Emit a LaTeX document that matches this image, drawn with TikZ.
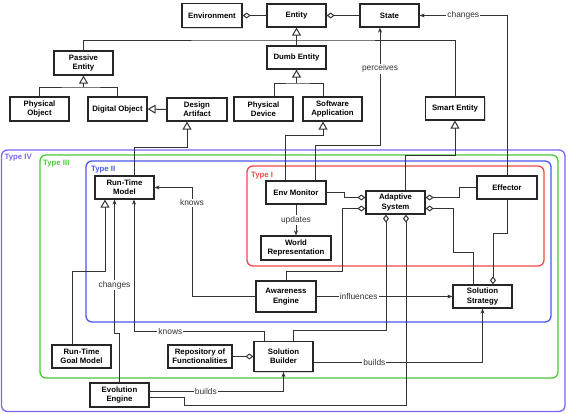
\documentclass[tikz,border=0pt]{standalone}
\usepackage{fontspec}
\setmainfont{Liberation Sans}
\usetikzlibrary{arrows.meta,shadows}
\definecolor{typeone}{HTML}{F04848}
\definecolor{typetwo}{HTML}{4A58EE}
\definecolor{typethree}{HTML}{4CC83A}
\definecolor{typefour}{HTML}{7C64F4}
\definecolor{wire}{HTML}{333333}

\begin{document}
\begin{tikzpicture}[x=1pt, y=-1pt,
  box/.style={draw=black!85, line width=1.2pt, fill=white, align=center, inner sep=1pt,
    minimum width=59pt, minimum height=23pt, font=\fontsize{7.8}{9.3}\selectfont\bfseries,
    drop shadow={shadow xshift=1pt, shadow yshift=-1pt, opacity=0.3}},
  lbl/.style={fill=white, inner sep=1pt, text=wire, font=\fontsize{8.4}{10}\selectfont},
  link/.style={draw=wire, line width=1pt},
  agg/.style={link, {Diamond[open,length=8pt,width=6pt]}-},
  inh/.style={link, -{Triangle[open,length=8pt,width=9pt]}},
  uses/.style={link, -{Stealth[length=5pt,width=4pt,inset=1.5pt]}},
  zone/.style={line width=1.3pt, rounded corners=6pt},
  zonelbl/.style={anchor=north west, inner sep=0pt, font=\fontsize{7.8}{9}\selectfont\bfseries}]
\useasboundingbox (0,0) rectangle (568,413);

% system types
\draw[zone, typefour] (1.5,150) rectangle (565,411.5);
\node[zonelbl, text=typefour] (t4) at (4.5,154) {Type IV};
\draw[zone, typethree] (40,155) rectangle (558,378);
\node[zonelbl, text=typethree] (t3) at (43,160) {Type III};
\draw[zone, typetwo] (86,161) rectangle (551,322);
\node[zonelbl, text=typetwo] (t2) at (91,166) {Type II};
\draw[zone, typeone] (247,166) rectangle (544,266);
\node[zonelbl, text=typeone] (t1) at (251,172) {Type I};

\node[box, minimum width=60pt, minimum height=24pt] (env) at (212,15.5) {Environment};
\node[box] (entity) at (296.5,15.5) {Entity};
\node[box] (state) at (389.5,15.5) {State};
\node[box, minimum height=24pt] (passive) at (83.5,63) {Passive\\Entity};
\node[box] (dumb) at (296.5,57.5) {Dumb Entity};
\node[box, minimum height=24pt] (physobj) at (39.5,109) {Physical\\Object};
\node[box, minimum height=24pt] (digobj) at (117.5,109) {Digital Object};
\node[box, minimum width=60pt] (design) at (197,109.5) {Design\\Artifact};
\node[box, minimum height=24pt] (physdev) at (263.5,109) {Physical\\Device};
\node[box, minimum height=24pt] (softapp) at (332.5,109) {Software\\Application};
\node[box] (smart) at (455,108.5) {Smart Entity};

\node[box] (rtm) at (124.5,187.5) {Run-Time\\Model};
\node[box, minimum width=60pt] (envmon) at (296,192.5) {Env Monitor};
\node[box, minimum width=70pt, minimum height=24pt] (world) at (296,248) {World\\Representation};
\node[box] (adaptive) at (395.5,202.5) {Adaptive\\System};
\node[box, minimum width=60pt] (effector) at (507,187.5) {Effector};
\node[box, minimum width=60pt, minimum height=31pt] (awareness) at (286,296.5) {Awareness\\Engine};
\node[box] (strategy) at (482.5,296.5) {Solution\\Strategy};
\node[box] (goal) at (81.5,356.5) {Run-Time\\Goal Model};
\node[box, minimum width=64pt] (repo) at (200,356.5) {Repository of\\Functionalities};
\node[box, minimum height=30pt] (builder) at (283.5,356.5) {Solution\\Builder};
\node[box, minimum height=24pt] (evolution) at (119.5,395) {Evolution\\Engine};

% generalisation
\coordinate (g1) at (296.5,40);
\draw[inh] (dumb.north) -- (entity.south);
\draw[link] (passive.north) |- (g1) -| (smart.north);
\coordinate (g2) at (296.5,83);
\draw[inh] (g2) -- (dumb.south);
\draw[link] ([xshift=10.5pt]physdev.north) |- (g2) -| ([xshift=-9.5pt]softapp.north);
\coordinate (g3) at (83.5,87);
\draw[inh] (g3) -- (passive.south);
\draw[link] (physobj.north) |- (g3) -| (digobj.north);
\draw[inh] (design.west) -- (digobj.east);
\coordinate (g4) at (187,147);
\draw[inh] ([xshift=9.5pt]rtm.north) |- (g4) -- (g4 |- design.south);
\coordinate (g5) at (323,135);
\draw[inh] ([xshift=-11pt]envmon.north) |- (g5) -- (g5 |- softapp.south);
\coordinate (g6) at (455,155);
\draw[inh] ([xshift=9.5pt]adaptive.north) |- (g6) -- (smart.south);
\coordinate (g7) at (105,271);
\draw[inh] ([xshift=-9.5pt]goal.north) |- (g7) -- (g7 |- rtm.south);

% aggregation
\draw[agg] (env.east) -- (entity.west);
\draw[agg] (entity.east) -- (state.west);
\draw[agg] ([yshift=5pt]adaptive.west) -- ++(-21,0) |- (envmon.east);
\draw[agg] ([yshift=-6pt]adaptive.west) -| (342,271) -| (awareness.north);
\draw[agg] ([yshift=5pt]adaptive.east) -| (459,187.5) -- (effector.west);
\draw[agg] ([yshift=-6pt]adaptive.east) -| (453,252) -| ([xshift=-9.5pt]strategy.north);
\draw[agg] ([xshift=10.5pt]strategy.north) |- (507,233) -- (effector.south);
\draw[agg] ([xshift=-9.5pt]adaptive.south) |- (293,330) -- ([xshift=9.5pt]builder.north);
\draw[agg] ([xshift=10.5pt]adaptive.south) |- (184,405) |- ([yshift=-2pt]evolution.east);
\draw[agg] (builder.west) -- (repo.east);

% associations
\coordinate (p1) at (380,145);
\draw[uses] (effector.north) |- node[lbl, pos=0.75] {changes} (state.east);
\draw[uses] ([xshift=19pt]envmon.north) |- (p1) -- node[lbl, pos=0.65] {perceives} (p1 |- state.south);
\draw[uses] (envmon.south) -- node[lbl] {updates} (world.north);
\draw[uses] (awareness.east) -- node[lbl, pos=0.31] {influences} (strategy.west);
\draw[uses] (awareness.west) -| node[lbl, pos=0.93] {knows} (192,187.5) -- (rtm.east);
\draw[uses] ([xshift=-19.5pt]builder.north) |- node[lbl, pos=0.86] {knows} (134,331) -- ([xshift=9.5pt]rtm.south);
\draw[uses] (evolution.north) |- (114.5,333) -- node[lbl, pos=0.36] {changes} ([xshift=-10pt]rtm.south);
\draw[uses] ([yshift=-5.5pt]builder.east) -| node[lbl, pos=0.18] {builds} (strategy.south);
\draw[uses] ([yshift=4pt]evolution.east) -| node[lbl, pos=0.21] {builds} (builder.south);
\end{tikzpicture}
\end{document}
